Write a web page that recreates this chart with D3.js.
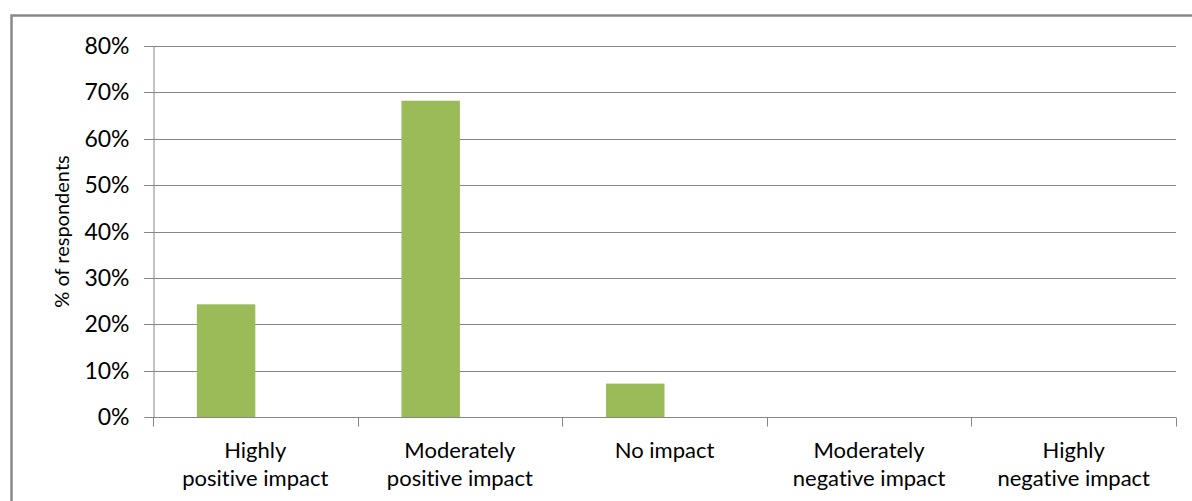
<!DOCTYPE html>
<html>
<head>
<meta charset="utf-8">
<script src="https://cdn.jsdelivr.net/npm/d3@7"></script>
<style>
    body { margin: 0; background: #fff; }
    #chart { width: 1192px; height: 501px; }
    text { font-family: Lato, 'Liberation Sans', sans-serif; fill: #000; font-variant-ligatures: none; font-feature-settings: "liga" 0, "clig" 0; }
</style>
</head>
<body>
<div id="chart"></div>
<script>
// Data
const categories = [
    ['Highly', 'positive impact'],
    ['Moderately', 'positive impact'],
    ['No impact'],
    ['Moderately', 'negative impact'],
    ['Highly', 'negative impact']
];
const seriesNames = ['Respondents', 'Blank'];
const respondents = [24.3, 68.2, 7.2, 0, 0];
const yTicks = [0, 10, 20, 30, 40, 50, 60, 70, 80];
const yLabel = '% of respondents';

const width = 1192;
const height = 501;
const margin = { top: 46, right: 15, bottom: 84, left: 153 };

const svg = d3.select('#chart')
    .append('svg')
    .attr('width', width)
    .attr('height', height)

// outer frame (runs off right and bottom edges)
svg.append('rect')
    .attr('x', 11.5)
    .attr('y', 15.5)
    .attr('width', width)
    .attr('height', height)
    .attr('fill', 'none')
    .attr('stroke', '#898989')
    .attr('stroke-width', 2.5)

const x = d3.scaleBand()
    .domain(d3.range(categories.length))
    .range([margin.left, width - margin.right - 1])
    .paddingInner(0)
    .paddingOuter(0)

const xSub = d3.scaleBand()
    .domain(seriesNames)
    .range([0, x.bandwidth()])
    .paddingInner(0)
    .paddingOuter(0.75)

const y = d3.scaleLinear()
    .domain([0, 80])
    .range([height - margin.bottom, margin.top])

// horizontal grid
svg.append('g')
    .selectAll('line')
    .data(yTicks.filter(d => d > 0))
    .join('line')
    .attr('x1', margin.left - 9)
    .attr('x2', width - margin.right - 1)
    .attr('y1', d => Math.round(y(d)) + 0.5)
    .attr('y2', d => Math.round(y(d)) + 0.5)
    .attr('stroke', '#868686')
    .attr('stroke-width', 1)

// bars
svg.append('g')
    .selectAll('rect')
    .data(respondents)
    .join('rect')
    .attr('x', (d, i) => x(i) + xSub('Respondents'))
    .attr('y', d => y(d))
    .attr('width', xSub.bandwidth())
    .attr('height', d => y(0) - y(d))
    .attr('fill', '#9bbb59')

// y axis
const yAxis = svg.append('g')
    .attr('transform', 'translate(' + (margin.left + 0.5) + ',0)')
    .call(d3.axisLeft(y).tickValues(yTicks).tickSize(9).tickPadding(15).tickFormat(d => d + '%'))

yAxis.select('.domain').attr('stroke', '#868686')
yAxis.selectAll('.tick line').attr('stroke', '#868686')
yAxis.selectAll('.tick').attr('transform', d => 'translate(0,' + (Math.round(y(d)) + 0.5) + ')')
yAxis.selectAll('text')
    .style('font-size', '23px')
    .style('font-family', 'Lato, sans-serif')
    .attr('fill', '#000')

// x axis
const xAxis = svg.append('g')
    .attr('transform', 'translate(0,' + (Math.round(y(0)) + 0.5) + ')')

xAxis.append('line')
    .attr('x1', margin.left)
    .attr('x2', width - margin.right - 1)
    .attr('stroke', '#868686')

xAxis.selectAll('.xtick')
    .data(d3.range(categories.length + 1))
    .join('line')
    .attr('class', 'xtick')
    .attr('x1', i => Math.round(i < categories.length ? x(i) : x(i - 1) + x.bandwidth()) + 0.5)
    .attr('x2', i => Math.round(i < categories.length ? x(i) : x(i - 1) + x.bandwidth()) + 0.5)
    .attr('y1', 0)
    .attr('y2', 9)
    .attr('stroke', '#868686')

xAxis.selectAll('.xlabel')
    .data(categories)
    .join('text')
    .attr('class', 'xlabel')
    .attr('text-anchor', 'middle')
    .style('font-size', '22px')
    .selectAll('tspan')
    .data((d, i) => d.map(line => ({ line, i })))
    .join('tspan')
    .attr('x', d => x(d.i) + x.bandwidth() / 2)
    .attr('y', (d, j) => 40 + j * 28)
    .text(d => d.line)

// y label
svg.append('text')
    .attr('transform', 'translate(69,' + (y(40)) + ') rotate(-90)')
    .attr('text-anchor', 'middle')
    .style('font-size', '20px')
    .text(yLabel)
</script>
</body>
</html>
